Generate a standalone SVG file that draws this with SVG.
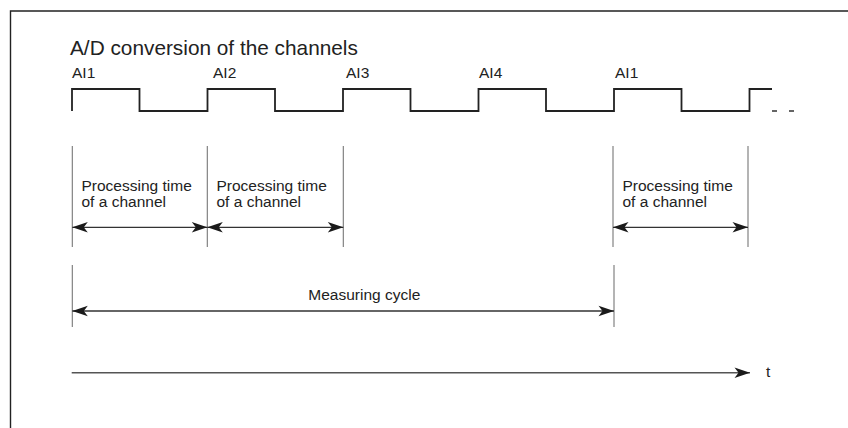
<svg xmlns="http://www.w3.org/2000/svg" width="848" height="428" viewBox="0 0 848 428">
  <style>
    .txt { font-family: "Liberation Sans", Arial, sans-serif; fill: #222; }
    .title { font-size: 20.8px; }
    .lbl { font-size: 15.5px; }
    .frame { fill: none; stroke: #222; stroke-width: 1.4; }
    .wave { fill: none; stroke: #222; stroke-width: 1.8; }
    .ext { fill: none; stroke: #777; stroke-width: 1.1; }
    .dim { fill: none; stroke: #333; stroke-width: 1.3; }
    .axis { fill: none; stroke: #555; stroke-width: 1.6; }
  </style>
  <defs>
    <marker id="ah" viewBox="-17 -7 18 14" refX="0" refY="0" markerWidth="18" markerHeight="14" markerUnits="userSpaceOnUse" orient="auto-start-reverse">
      <path d="M0,0 L-15.5,-5.2 L-11.5,0 L-15.5,5.2 Z" fill="#1a1a1a"/>
    </marker>
  </defs>

  <g id="frame">
    <path class="frame" d="M10.5,428 V11 H848"/>
  </g>

  <g id="title">
    <text class="txt title" x="70" y="55">A/D conversion of the channels</text>
  </g>

  <g id="signal">
    <path class="wave" d="M72,111 V89 H139.5 V111 H207.5 V89 H275 V111 H343 V89 H410.5 V111 H478.5 V89 H546 V111 H614 V89 H681.5 V111 H749.5 V89 H772"/>
    <path class="dim" d="M772,111 H777 M789,111 H794"/>
    <text class="txt lbl" x="72" y="78">AI1</text>
    <text class="txt lbl" x="213" y="78">AI2</text>
    <text class="txt lbl" x="346" y="78">AI3</text>
    <text class="txt lbl" x="479" y="78">AI4</text>
    <text class="txt lbl" x="615" y="78">AI1</text>
  </g>

  <g id="connectors">
    <path class="ext" d="M72.3,146 V247 M207.3,146 V247 M343.3,146 V247 M613,146 V247 M748,146 V247"/>
    <path class="ext" d="M72.3,265 V327 M614,265 V327"/>
    <line class="dim" x1="72.3" y1="227.3" x2="207.3" y2="227.3" marker-start="url(#ah)" marker-end="url(#ah)"/>
    <line class="dim" x1="207.3" y1="227.3" x2="343.3" y2="227.3" marker-start="url(#ah)" marker-end="url(#ah)"/>
    <line class="dim" x1="613" y1="227.3" x2="748" y2="227.3" marker-start="url(#ah)" marker-end="url(#ah)"/>
    <line class="dim" x1="72.3" y1="311" x2="614" y2="311" marker-start="url(#ah)" marker-end="url(#ah)"/>
    <line class="axis" x1="71.7" y1="372.7" x2="750" y2="372.7" marker-end="url(#ah)"/>
  </g>

  <g id="proc1">
    <text class="txt lbl" x="81.5" y="190.5">Processing time</text>
    <text class="txt lbl" x="81.5" y="207">of a channel</text>
  </g>
  <g id="proc2">
    <text class="txt lbl" x="216.5" y="190.5">Processing time</text>
    <text class="txt lbl" x="216.5" y="207">of a channel</text>
  </g>
  <g id="proc3">
    <text class="txt lbl" x="622.5" y="190.5">Processing time</text>
    <text class="txt lbl" x="622.5" y="207">of a channel</text>
  </g>
  <g id="cycle">
    <text class="txt lbl" x="308.3" y="300">Measuring cycle</text>
  </g>
  <g id="time">
    <text class="txt lbl" x="766" y="377">t</text>
  </g>
</svg>
